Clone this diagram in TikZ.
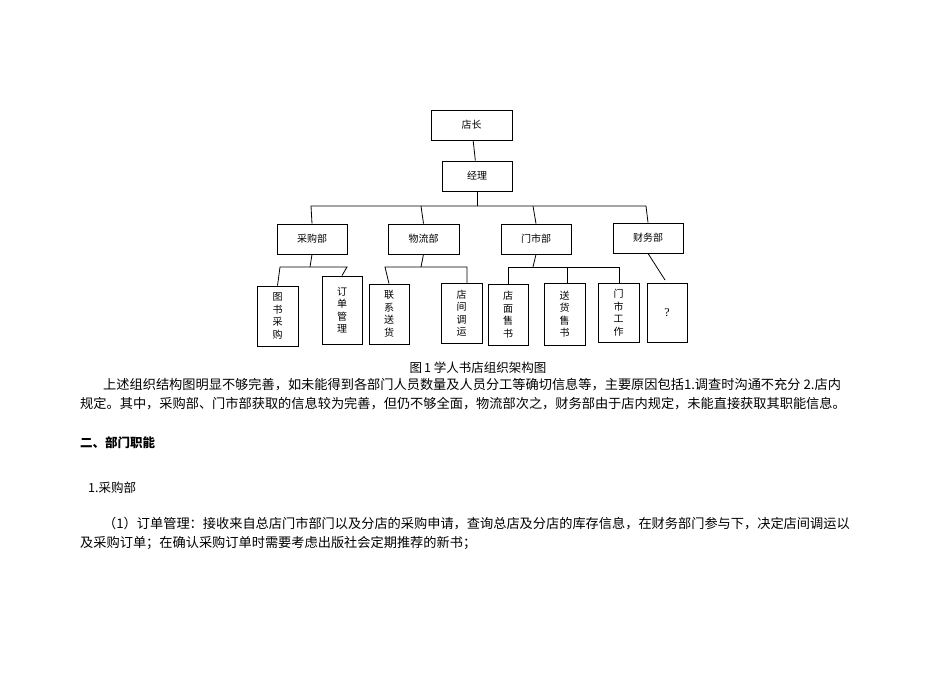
\documentclass[tikz,border=0pt]{standalone}
\usepackage{fontspec}
\setmainfont{Liberation Serif}
\newfontfamily\cjk{Noto Sans CJK SC}
\begin{document}
\begin{tikzpicture}[x=1pt,y=-1pt,
  bx/.style={draw,line width=0.8pt,inner sep=0,font=\cjk\fontsize{10}{12}\selectfont},
  lf/.style={bx,align=center,font=\cjk\fontsize{10}{12.5}\selectfont},
  ln/.style={line width=0.8pt},
  tx/.style={anchor=west,inner sep=0,font=\cjk\fontsize{13.2}{15}\selectfont}]
\useasboundingbox (0,0) rectangle (950,672);
\node[bx,minimum width=81,minimum height=30] (dz) at (471.5,125) {店长};
\node[bx,minimum width=70,minimum height=30] (jl) at (477,176) {经理};
\node[bx,minimum width=70,minimum height=30] (cg) at (312,239) {采购部};
\node[bx,minimum width=71,minimum height=30] (wl) at (423.5,239) {物流部};
\node[bx,minimum width=70,minimum height=30] (ms) at (536,239) {门市部};
\node[bx,minimum width=70,minimum height=30] (cw) at (648,238) {财务部};
\node[lf,minimum width=41,minimum height=60] (l1) at (277.5,316) {图\\书\\采\\购};
\node[lf,minimum width=40,minimum height=68] (l2) at (342,310) {订\\单\\管\\理};
\node[lf,minimum width=40,minimum height=60] (l3) at (389,314) {联\\系\\送\\货};
\node[lf,minimum width=41,minimum height=60] (l4) at (461.5,313) {店\\间\\调\\运};
\node[lf,minimum width=40,minimum height=61] (l5) at (508,314.5) {店\\面\\售\\书};
\node[lf,minimum width=41,minimum height=62] (l6) at (564.5,314) {送\\货\\售\\书};
\node[lf,minimum width=41,minimum height=59] (l7) at (618.5,312.5) {门\\市\\工\\作};
\node[bx,minimum width=40,minimum height=59,font=\fontsize{12}{14}\selectfont] (l8) at (667,312.5) {?};
\draw[ln] (dz) -- (jl);
\coordinate (b1) at (477,206);
\draw[ln] (jl) -- (b1);
\draw[ln] (cg.north) -- (311,206) -- (646,206) -- (cw.north);
\draw[ln] (wl.north) -- (421,206);
\draw[ln] (ms.north) -- (533,206);
\draw[ln] (cg.south) -- (310,267);
\draw[ln] (l1.north) -- (280,267) -- (347,267) -- (l2.north);
\draw[ln] (wl.south) -- (421,267);
\draw[ln] (l3.north) -- (385,267) -- (467,267) -- (467,283);
\draw[ln] (ms.south) -- (533,267);
\draw[ln] (508,284) -- (508,267) -- (619,267) -- (619,283);
\draw[ln] (567,267) -- (567,283);
\draw[ln] (cw.south) -- (665,280);
\node[anchor=center,inner sep=0,font=\cjk\fontsize{12.5}{14}\selectfont] (cap) at (478,368) {图\,1 学人书店组织架构图};
\node[tx] (p1) at (103,385) {上述组织结构图明显不够完善，如未能得到各部门人员数量及人员分工等确切信息等，主要原因包括1.调查时沟通不充分 2.店内};
\node[tx] (p2) at (80,404) {规定。其中，采购部、门市部获取的信息较为完善，但仍不够全面，物流部次之，财务部由于店内规定，未能直接获取其职能信息。};
\node[tx,font=\cjk\bfseries\fontsize{12.5}{14}\selectfont] (h1) at (80,443) {二、部门职能};
\node[tx,font=\cjk\fontsize{12.5}{14}\selectfont] (h2) at (88,488) {1.采购部};
\node[tx] (p3) at (103,524) {（1）订单管理：接收来自总店门市部门以及分店的采购申请，查询总店及分店的库存信息，在财务部门参与下，决定店间调运以};
\node[tx] (p4) at (80,543) {及采购订单；在确认采购订单时需要考虑出版社会定期推荐的新书；};
\end{tikzpicture}
\end{document}
